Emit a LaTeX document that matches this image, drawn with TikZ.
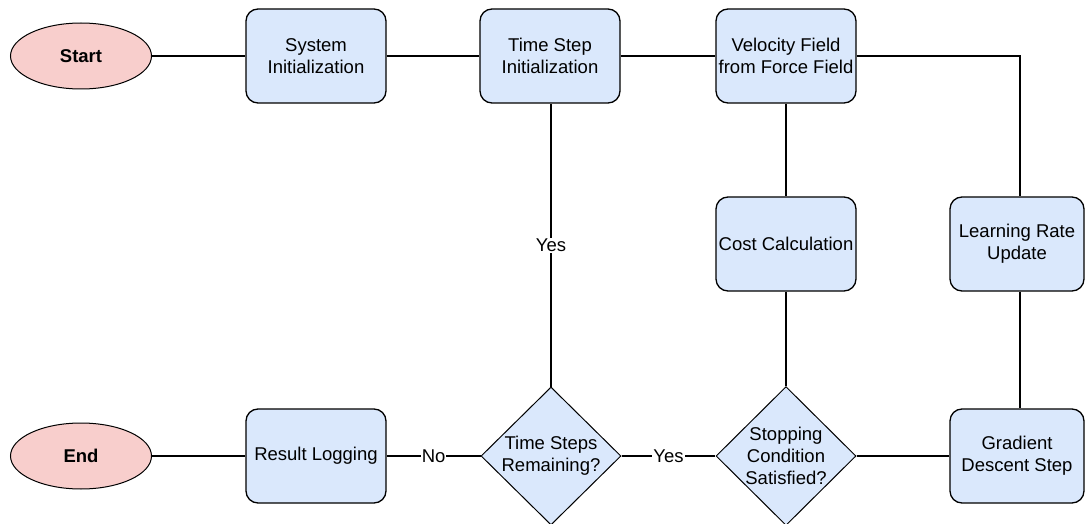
\documentclass[tikz,border=0pt]{standalone}
\usepackage{fontspec}
\setmainfont{Liberation Sans}
\usetikzlibrary{shapes.geometric,calc}
\definecolor{boxfill}{HTML}{DAE8FC}
\definecolor{termfill}{HTML}{F8CECC}
\begin{document}
\begin{tikzpicture}[x=1pt,y=-1pt,
  font=\fontsize{18.5}{22}\selectfont,
  proc/.style={draw=black, line width=1.3pt, fill=boxfill, rounded corners=12pt,
    minimum width=140pt, minimum height=94pt, align=center, inner sep=0pt},
  narrowproc/.style={proc, minimum width=134pt},
  term/.style={ellipse, draw=black, fill=termfill, line width=1pt,
    minimum width=141pt, minimum height=66pt, inner sep=0pt, font=\fontsize{18.5}{22}\selectfont\bfseries},
  dec/.style={diamond, draw=black, fill=boxfill, line width=1pt,
    minimum width=140pt, minimum height=138pt, inner sep=0pt, align=center},
  conn/.style={line width=2.2pt},
  lbl/.style={fill=white, inner sep=1pt}]
\useasboundingbox (0,0) rectangle (1085,524);

\node[term] (startn) at (81,56) {Start};
\node[proc] (sys) at (316,56) {System\\Initialization};
\node[proc] (tsi) at (550,56) {Time Step\\Initialization};
\node[proc] (vel) at (786,56) {Velocity Field\\from Force Field};
\node[proc] (cost) at (786,244) {Cost Calculation};
\node[narrowproc] (lr) at (1017,244) {Learning Rate\\Update};
\node[narrowproc] (grad) at (1017,456) {Gradient\\Descent Step};
\node[dec] (stop) at (786,456) {Stopping\\Condition\\Satisfied?};
\node[dec] (tsr) at (551,456) {Time Steps\\Remaining?};
\node[proc] (res) at (316,456) {Result Logging};
\node[term] (endn) at (81,456) {End};

\draw[conn] (startn) -- (sys);
\draw[conn] (sys) -- (tsi);
\draw[conn] (tsi) -- (vel);
\draw[conn] (vel.east) -| ($(lr.north)+(3,0)$);
\draw[conn] ($(lr.south)+(3,0)$) -- ($(grad.north)+(3,0)$);
\draw[conn] (vel) -- (cost);
\draw[conn] (cost) -- (stop);
\draw[conn] (grad) -- (stop);
\draw[conn] (stop) -- node[lbl] {Yes} (tsr);
\draw[conn] (tsr.north) -- node[lbl] {Yes} (tsr.north |- tsi.south);
\draw[conn] (tsr) -- node[lbl] {No} (res);
\draw[conn] (res) -- (endn);
\end{tikzpicture}
\end{document}
